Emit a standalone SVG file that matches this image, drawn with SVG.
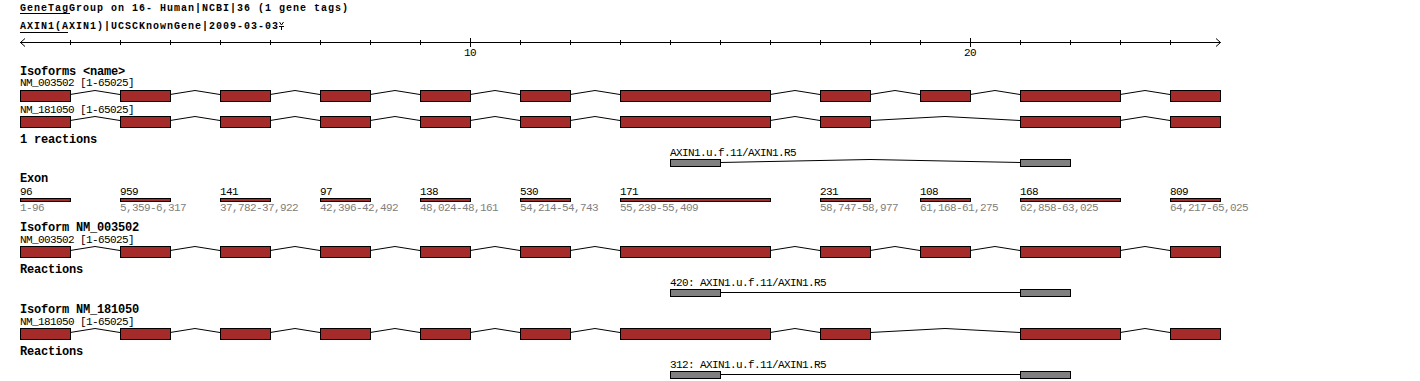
<svg xmlns="http://www.w3.org/2000/svg" width="1420" height="381" viewBox="0 0 1420 381">
<style>
text{font-family:"Liberation Mono","DejaVu Sans Mono",monospace;fill:#000}
.n{font-size:11px;letter-spacing:-0.6px}
.g{fill:#808080}
.b{font-size:12px;font-weight:bold;letter-spacing:-0.2px}
.h{font-size:10px;font-weight:bold;letter-spacing:1px}
.ex{fill:#a52a2a;stroke:#000;stroke-width:1}
.rx{fill:#808080;stroke:#000;stroke-width:1}
.ln{fill:none;stroke:#000;stroke-width:1}
</style>
<rect width="1420" height="381" fill="#fff"/>
<g id="header">
<text class="h" x="20" y="11">GeneTagGroup on 16- Human|NCBI|36 (1 gene tags)</text>
<line class="ln" x1="20" y1="13.5" x2="70" y2="13.5"/>
<text class="h" x="20" y="28.5">AXIN1(AXIN1)|UCSCKnownGene|2009-03-03</text>
<line class="ln" x1="20" y1="32.5" x2="68" y2="32.5"/>
<path class="ln" d="M279.5,22 L281.5,25 L283.5,22 M279,26.5 H284 M281.5,26.5 V30"/>
</g>
<g id="axis">
<path class="ln" d="M20,42.5 H1220.5 M25,38.5 L20.5,42.5 L25,46.5 M1216,38.5 L1220.5,42.5 L1216,46.5"/>
<path class="ln" d="M70.5,40 V45 M120.5,40 V45 M170.5,40 V45 M220.5,40 V45 M270.5,40 V45 M320.5,40 V45 M370.5,40 V45 M420.5,40 V45 M520.5,40 V45 M570.5,40 V45 M620.5,40 V45 M670.5,40 V45 M720.5,40 V45 M770.5,40 V45 M820.5,40 V45 M870.5,40 V45 M920.5,40 V45 M1020.5,40 V45 M1070.5,40 V45 M1120.5,40 V45 M1170.5,40 V45 M470.5,38 V47 M970.5,38 V47"/>
<text class="n" x="470" y="56" text-anchor="middle">10</text>
<text class="n" x="970" y="56" text-anchor="middle">20</text>
</g>
<g id="labels">
<text class="b" x="20" y="75">Isoforms &lt;name&gt;</text>
<text class="n" x="20" y="86">NM_003502 [1-65025]</text>
<text class="n" x="20" y="112.5">NM_181050 [1-65025]</text>
<text class="b" x="20" y="143">1 reactions</text>
<text class="n" x="670" y="156">AXIN1.u.f.11/AXIN1.R5</text>
<text class="b" x="20" y="182">Exon</text>
<text class="b" x="20" y="231">Isoform NM_003502</text>
<text class="n" x="20" y="242.5">NM_003502 [1-65025]</text>
<text class="b" x="20" y="273">Reactions</text>
<text class="n" x="670" y="286">420: AXIN1.u.f.11/AXIN1.R5</text>
<text class="b" x="20" y="313">Isoform NM_181050</text>
<text class="n" x="20" y="324.5">NM_181050 [1-65025]</text>
<text class="b" x="20" y="355">Reactions</text>
<text class="n" x="670" y="367.5">312: AXIN1.u.f.11/AXIN1.R5</text>
</g>
<g id="connectors">
<polyline class="ln" points="70,94.5 95,90.5 120,94.5"/>
<polyline class="ln" points="170,94.5 195,90.5 220,94.5"/>
<polyline class="ln" points="270,94.5 295,90.5 320,94.5"/>
<polyline class="ln" points="370,94.5 395,90.5 420,94.5"/>
<polyline class="ln" points="470,94.5 495,90.5 520,94.5"/>
<polyline class="ln" points="570,94.5 595,90.5 620,94.5"/>
<polyline class="ln" points="770,94.5 795,90.5 820,94.5"/>
<polyline class="ln" points="870,94.5 895,90.5 920,94.5"/>
<polyline class="ln" points="970,94.5 995,90.5 1020,94.5"/>
<polyline class="ln" points="1120,94.5 1145,90.5 1170,94.5"/>
<polyline class="ln" points="70,120.5 95,116.5 120,120.5"/>
<polyline class="ln" points="170,120.5 195,116.5 220,120.5"/>
<polyline class="ln" points="270,120.5 295,116.5 320,120.5"/>
<polyline class="ln" points="370,120.5 395,116.5 420,120.5"/>
<polyline class="ln" points="470,120.5 495,116.5 520,120.5"/>
<polyline class="ln" points="570,120.5 595,116.5 620,120.5"/>
<polyline class="ln" points="770,120.5 795,116.5 820,120.5"/>
<polyline class="ln" points="870,120.5 945,116.5 1020,120.5"/>
<polyline class="ln" points="1120,120.5 1145,116.5 1170,120.5"/>
<polyline class="ln" points="720,162.5 870,159.5 1020,162.5"/>
<polyline class="ln" points="70,250.5 95,246.5 120,250.5"/>
<polyline class="ln" points="170,250.5 195,246.5 220,250.5"/>
<polyline class="ln" points="270,250.5 295,246.5 320,250.5"/>
<polyline class="ln" points="370,250.5 395,246.5 420,250.5"/>
<polyline class="ln" points="470,250.5 495,246.5 520,250.5"/>
<polyline class="ln" points="570,250.5 595,246.5 620,250.5"/>
<polyline class="ln" points="770,250.5 795,246.5 820,250.5"/>
<polyline class="ln" points="870,250.5 895,246.5 920,250.5"/>
<polyline class="ln" points="970,250.5 995,246.5 1020,250.5"/>
<polyline class="ln" points="1120,250.5 1145,246.5 1170,250.5"/>
<line class="ln" x1="720" y1="292.5" x2="1020" y2="292.5"/>
<polyline class="ln" points="70,332.5 95,328.5 120,332.5"/>
<polyline class="ln" points="170,332.5 195,328.5 220,332.5"/>
<polyline class="ln" points="270,332.5 295,328.5 320,332.5"/>
<polyline class="ln" points="370,332.5 395,328.5 420,332.5"/>
<polyline class="ln" points="470,332.5 495,328.5 520,332.5"/>
<polyline class="ln" points="570,332.5 595,328.5 620,332.5"/>
<polyline class="ln" points="770,332.5 795,328.5 820,332.5"/>
<polyline class="ln" points="870,332.5 945,328.5 1020,332.5"/>
<polyline class="ln" points="1120,332.5 1145,328.5 1170,332.5"/>
<line class="ln" x1="720" y1="374.5" x2="1020" y2="374.5"/>
</g>
<g id="iso-NM_003502">
<g id="a1"><rect class="ex" x="20.5" y="90.5" width="50" height="11"/></g>
<g id="a2"><rect class="ex" x="120.5" y="90.5" width="50" height="11"/></g>
<g id="a3"><rect class="ex" x="220.5" y="90.5" width="50" height="11"/></g>
<g id="a4"><rect class="ex" x="320.5" y="90.5" width="50" height="11"/></g>
<g id="a5"><rect class="ex" x="420.5" y="90.5" width="50" height="11"/></g>
<g id="a6"><rect class="ex" x="520.5" y="90.5" width="50" height="11"/></g>
<g id="a7"><rect class="ex" x="620.5" y="90.5" width="150" height="11"/></g>
<g id="a8"><rect class="ex" x="820.5" y="90.5" width="50" height="11"/></g>
<g id="a9"><rect class="ex" x="920.5" y="90.5" width="50" height="11"/></g>
<g id="a10"><rect class="ex" x="1020.5" y="90.5" width="100" height="11"/></g>
<g id="a11"><rect class="ex" x="1170.5" y="90.5" width="50" height="11"/></g>
</g>
<g id="iso-NM_181050">
<g id="b1"><rect class="ex" x="20.5" y="116.5" width="50" height="11"/></g>
<g id="b2"><rect class="ex" x="120.5" y="116.5" width="50" height="11"/></g>
<g id="b3"><rect class="ex" x="220.5" y="116.5" width="50" height="11"/></g>
<g id="b4"><rect class="ex" x="320.5" y="116.5" width="50" height="11"/></g>
<g id="b5"><rect class="ex" x="420.5" y="116.5" width="50" height="11"/></g>
<g id="b6"><rect class="ex" x="520.5" y="116.5" width="50" height="11"/></g>
<g id="b7"><rect class="ex" x="620.5" y="116.5" width="150" height="11"/></g>
<g id="b8"><rect class="ex" x="820.5" y="116.5" width="50" height="11"/></g>
<g id="b10"><rect class="ex" x="1020.5" y="116.5" width="100" height="11"/></g>
<g id="b11"><rect class="ex" x="1170.5" y="116.5" width="50" height="11"/></g>
</g>
<g id="reaction-1">
<g id="r1a"><rect class="rx" x="670.5" y="159.5" width="50" height="7"/></g>
<g id="r1b"><rect class="rx" x="1020.5" y="159.5" width="50" height="7"/></g>
</g>
<g id="exons">
<g id="e1"><text class="n" x="20" y="195">96</text><rect class="ex" x="20.5" y="198.5" width="50" height="3"/><text class="n g" x="20" y="211">1-96</text></g>
<g id="e2"><text class="n" x="120" y="195">959</text><rect class="ex" x="120.5" y="198.5" width="50" height="3"/><text class="n g" x="120" y="211">5,359-6,317</text></g>
<g id="e3"><text class="n" x="220" y="195">141</text><rect class="ex" x="220.5" y="198.5" width="50" height="3"/><text class="n g" x="220" y="211">37,782-37,922</text></g>
<g id="e4"><text class="n" x="320" y="195">97</text><rect class="ex" x="320.5" y="198.5" width="50" height="3"/><text class="n g" x="320" y="211">42,396-42,492</text></g>
<g id="e5"><text class="n" x="420" y="195">138</text><rect class="ex" x="420.5" y="198.5" width="50" height="3"/><text class="n g" x="420" y="211">48,024-48,161</text></g>
<g id="e6"><text class="n" x="520" y="195">530</text><rect class="ex" x="520.5" y="198.5" width="50" height="3"/><text class="n g" x="520" y="211">54,214-54,743</text></g>
<g id="e7"><text class="n" x="620" y="195">171</text><rect class="ex" x="620.5" y="198.5" width="150" height="3"/><text class="n g" x="620" y="211">55,239-55,409</text></g>
<g id="e8"><text class="n" x="820" y="195">231</text><rect class="ex" x="820.5" y="198.5" width="50" height="3"/><text class="n g" x="820" y="211">58,747-58,977</text></g>
<g id="e9"><text class="n" x="920" y="195">108</text><rect class="ex" x="920.5" y="198.5" width="50" height="3"/><text class="n g" x="920" y="211">61,168-61,275</text></g>
<g id="e10"><text class="n" x="1020" y="195">168</text><rect class="ex" x="1020.5" y="198.5" width="100" height="3"/><text class="n g" x="1020" y="211">62,858-63,025</text></g>
<g id="e11"><text class="n" x="1170" y="195">809</text><rect class="ex" x="1170.5" y="198.5" width="50" height="3"/><text class="n g" x="1170" y="211">64,217-65,025</text></g>
</g>
<g id="isoform-NM_003502">
<g id="c1"><rect class="ex" x="20.5" y="246.5" width="50" height="11"/></g>
<g id="c2"><rect class="ex" x="120.5" y="246.5" width="50" height="11"/></g>
<g id="c3"><rect class="ex" x="220.5" y="246.5" width="50" height="11"/></g>
<g id="c4"><rect class="ex" x="320.5" y="246.5" width="50" height="11"/></g>
<g id="c5"><rect class="ex" x="420.5" y="246.5" width="50" height="11"/></g>
<g id="c6"><rect class="ex" x="520.5" y="246.5" width="50" height="11"/></g>
<g id="c7"><rect class="ex" x="620.5" y="246.5" width="150" height="11"/></g>
<g id="c8"><rect class="ex" x="820.5" y="246.5" width="50" height="11"/></g>
<g id="c9"><rect class="ex" x="920.5" y="246.5" width="50" height="11"/></g>
<g id="c10"><rect class="ex" x="1020.5" y="246.5" width="100" height="11"/></g>
<g id="c11"><rect class="ex" x="1170.5" y="246.5" width="50" height="11"/></g>
</g>
<g id="reaction-420">
<g id="r2a"><rect class="rx" x="670.5" y="289.5" width="50" height="7"/></g>
<g id="r2b"><rect class="rx" x="1020.5" y="289.5" width="50" height="7"/></g>
</g>
<g id="isoform-NM_181050">
<g id="d1"><rect class="ex" x="20.5" y="328.5" width="50" height="11"/></g>
<g id="d2"><rect class="ex" x="120.5" y="328.5" width="50" height="11"/></g>
<g id="d3"><rect class="ex" x="220.5" y="328.5" width="50" height="11"/></g>
<g id="d4"><rect class="ex" x="320.5" y="328.5" width="50" height="11"/></g>
<g id="d5"><rect class="ex" x="420.5" y="328.5" width="50" height="11"/></g>
<g id="d6"><rect class="ex" x="520.5" y="328.5" width="50" height="11"/></g>
<g id="d7"><rect class="ex" x="620.5" y="328.5" width="150" height="11"/></g>
<g id="d8"><rect class="ex" x="820.5" y="328.5" width="50" height="11"/></g>
<g id="d10"><rect class="ex" x="1020.5" y="328.5" width="100" height="11"/></g>
<g id="d11"><rect class="ex" x="1170.5" y="328.5" width="50" height="11"/></g>
</g>
<g id="reaction-312">
<g id="r3a"><rect class="rx" x="670.5" y="371.5" width="50" height="7"/></g>
<g id="r3b"><rect class="rx" x="1020.5" y="371.5" width="50" height="7"/></g>
</g>
</svg>
